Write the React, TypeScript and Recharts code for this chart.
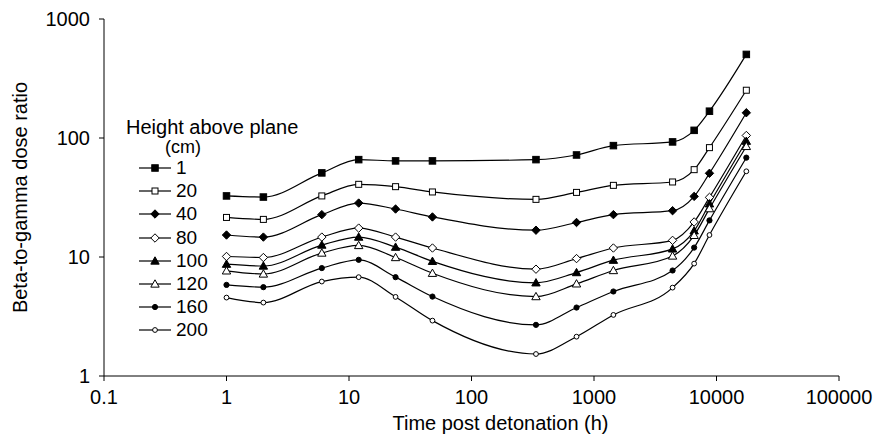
import React from "react"
import { LineChart, Line, XAxis, YAxis } from "recharts"

// hours after detonation
const times = [1, 2, 6, 12, 24, 48, 336, 720, 1440, 4380, 6570, 8760, 17520]

// beta-to-gamma ratio per height above plane (cm)
const h1 = [32.6, 31.9, 50.9, 65.8, 64.2, 64.2, 65.8, 72, 86.3, 92.7, 116, 168, 504]
const h20 = [21.5, 20.7, 32.6, 40.8, 39, 35.2, 30.5, 34.9, 40, 42.7, 54.2, 83, 252]
const h40 = [15.3, 14.7, 22.7, 28.4, 25.3, 21.7, 16.8, 19.5, 22.7, 24.5, 32.3, 50.5, 163]
const h80 = [10.1, 9.9, 14.7, 17.5, 14.7, 11.9, 7.9, 9.7, 11.9, 13.8, 19.7, 31.7, 105]
const h100 = [8.7, 8.4, 12.6, 14.7, 12.1, 9.2, 6.07, 7.4, 9.4, 11.7, 16.6, 28, 94]
const h120 = [7.65, 7.2, 10.8, 12.5, 9.9, 7.3, 4.65, 5.95, 7.7, 10.2, 15.2, 25.5, 85]
const h160 = [5.83, 5.58, 8.07, 9.47, 6.77, 4.65, 2.69, 3.76, 5.13, 7.7, 12.0, 20.3, 68.4]
const h200 = [4.56, 4.14, 6.22, 6.77, 4.62, 2.92, 1.53, 2.14, 3.26, 5.53, 8.8, 15.3, 52.5]

const xTicks = [0.1, 1, 10, 100, 1000, 10000, 100000]
const yTicks = [1, 10, 100, 1000]

type Shape = "square" | "diamond" | "triangle" | "circle"
const series: { name: string; key: string; values: number[]; shape: Shape; filled: boolean }[] = [
  { name: "1", key: "h1", values: h1, shape: "square", filled: true },
  { name: "20", key: "h20", values: h20, shape: "square", filled: false },
  { name: "40", key: "h40", values: h40, shape: "diamond", filled: true },
  { name: "80", key: "h80", values: h80, shape: "diamond", filled: false },
  { name: "100", key: "h100", values: h100, shape: "triangle", filled: true },
  { name: "120", key: "h120", values: h120, shape: "triangle", filled: false },
  { name: "160", key: "h160", values: h160, shape: "circle", filled: true },
  { name: "200", key: "h200", values: h200, shape: "circle", filled: false },
]

const data = times.map((t, i) => {
  const row: any = { x: t }
  series.forEach((s) => (row[s.key] = s.values[i]))
  return row
})

const font = "'Liberation Sans', Arial, sans-serif"

function Marker({ cx, cy, shape, filled }: { cx: number; cy: number; shape: Shape; filled: boolean }) {
  const fill = filled ? "#000" : "#fff"
  const sw = 1
  if (shape === "square") {
    const s = filled ? 6.5 : 6
    return <rect x={cx - s / 2} y={cy - s / 2} width={s} height={s} fill={fill} stroke="#000" strokeWidth={sw} />
  }
  if (shape === "diamond") {
    const r = 4.2
    return <polygon points={`${cx},${cy - r} ${cx + r},${cy} ${cx},${cy + r} ${cx - r},${cy}`} fill={fill} stroke="#000" strokeWidth={sw} />
  }
  if (shape === "triangle") {
    const r = 4.2
    return <polygon points={`${cx},${cy - r} ${cx + r},${cy + r * 0.75} ${cx - r},${cy + r * 0.75}`} fill={fill} stroke="#000" strokeWidth={sw} />
  }
  return <circle cx={cx} cy={cy} r={filled ? 2.6 : 2.4} fill={fill} stroke="#000" strokeWidth={sw} />
}

// axis titles, placed from the axis viewBox
const XTitle = (props: any) => {
  const vb = props.viewBox || { x: 104, y: 376, width: 735, height: 59 }
  return (
    <text x={vb.x + vb.width / 2 + 29} y={vb.y + 54} textAnchor="middle" fill="#000" fontSize={20} fontFamily={font}>
      Time post detonation (h)
    </text>
  )
}

const YTitle = (props: any) => {
  const vb = props.viewBox || { x: 0, y: 19, width: 104, height: 357 }
  const cx = 20
  const cy = vb.y + vb.height / 2
  return (
    <text x={cx} y={cy} transform={`rotate(-90 ${cx} ${cy})`} textAnchor="middle" dominantBaseline="central" fill="#000" fontSize={20} fontFamily={font}>
      Beta-to-gamma dose ratio
    </text>
  )
}

export default function App() {
  return (
    <div style={{ position: "absolute", left: 0, top: 0, width: 875, height: 435, background: "#fff", fontFamily: font }}>
      <LineChart width={875} height={435} data={data} margin={{ top: 19, right: 36, bottom: 0, left: 0 }}>
        <XAxis
          dataKey="x"
          type="number"
          scale="log"
          domain={[0.1, 100000]}
          ticks={xTicks}
          allowDataOverflow
          height={59}
          tickSize={5}
          tickMargin={9}
          stroke="#000"
          tick={{ fill: "#000", fontSize: 20, fontFamily: font }}
          tickFormatter={(v: number) => String(v)}
          label={<XTitle />}
        />
        <YAxis
          type="number"
          scale="log"
          domain={[1, 1000]}
          ticks={yTicks}
          allowDataOverflow
          width={104}
          tickSize={5}
          tickMargin={9}
          stroke="#000"
          tick={{ fill: "#000", fontSize: 20, fontFamily: font }}
          label={<YTitle />}
        />
        {series.map((s) => (
          <Line
            key={s.key}
            dataKey={s.key}
            type="monotone"
            stroke="#000"
            strokeWidth={1.2}
            isAnimationActive={false}
            dot={(p: any) => (
              <g key={`${s.key}-${p.index}`}>
                <Marker cx={p.cx} cy={p.cy} shape={s.shape} filled={s.filled} />
              </g>
            )}
            activeDot={false}
          />
        ))}
      </LineChart>
      <div style={{ position: "absolute", left: 126, top: 114, fontSize: 20, lineHeight: "26px", color: "#000", whiteSpace: "nowrap" }}>
        Height above plane
      </div>
      <div style={{ position: "absolute", left: 165, top: 135, fontSize: 18, lineHeight: "24px", color: "#000" }}>(cm)</div>
      {series.map((s, i) => (
        <div key={s.key} style={{ position: "absolute", left: 137, top: 156 + i * 23.2, height: 24, display: "flex", alignItems: "center" }}>
          <svg width={36} height={24}>
            <line x1={2} x2={34} y1={12} y2={12} stroke="#000" strokeWidth={1.2} />
            <Marker cx={18} cy={12} shape={s.shape} filled={s.filled} />
          </svg>
          <span style={{ fontSize: 19, marginLeft: 3, color: "#000", lineHeight: "24px" }}>{s.name}</span>
        </div>
      ))}
    </div>
  )
}
